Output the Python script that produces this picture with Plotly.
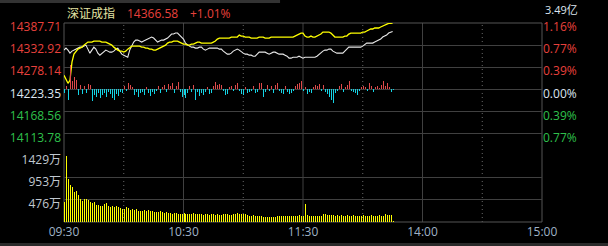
import plotly.graph_objects as go

# ---------------- data ----------------
prev_close = 14223.35
index_name = "深证成指"
total_amount_label = "3.49亿"

time_ticks = [0, 60, 120, 180, 240]
time_labels = ["09:30", "10:30", "11:30", "14:00", "15:00"]

price_ticks = [14387.71, 14332.92, 14278.14, 14223.35, 14168.56, 14113.78]
price_floor = 14058.99
volume_ticks = [476.33, 952.67, 1429.0]
volume_labels = ["476万", "953万", "1429万"]

# weighted index (white line), one value per minute
index_price = [
    14320.5, 14325.5, 14320.5, 14313.0, 14318.0, 14320.5, 14323.0, 14325.5, 14327.9, 14327.9,
    14330.4, 14332.9, 14323.0, 14313.0, 14320.5, 14327.9, 14323.0, 14313.0, 14308.0, 14313.0,
    14318.0, 14320.5, 14318.0, 14315.5, 14315.5, 14318.0, 14323.0, 14325.5, 14318.0, 14310.5,
    14308.0, 14305.5, 14303.0, 14320.5, 14332.9, 14340.4, 14345.4, 14345.4, 14342.9, 14340.4,
    14342.9, 14345.4, 14347.9, 14350.4, 14352.9, 14350.4, 14345.4, 14340.4, 14342.9, 14345.4,
    14345.4, 14347.9, 14350.4, 14355.3, 14360.3, 14360.3, 14362.8, 14362.8, 14357.8, 14352.9,
    14347.9, 14337.9, 14332.9, 14330.4, 14327.9, 14327.9, 14325.5, 14325.5, 14327.9, 14327.9,
    14323.0, 14320.5, 14323.0, 14325.5, 14325.5, 14325.5, 14325.5, 14325.5, 14323.0, 14323.0,
    14318.0, 14313.0, 14310.5, 14310.5, 14313.0, 14318.0, 14320.5, 14323.0, 14320.5, 14315.5,
    14313.0, 14310.5, 14310.5, 14308.0, 14308.0, 14305.5, 14305.5, 14310.5, 14315.5, 14315.5,
    14315.5, 14315.5, 14313.0, 14310.5, 14313.0, 14315.5, 14315.5, 14313.0, 14310.5, 14310.5,
    14310.5, 14308.0, 14305.5, 14300.6, 14300.6, 14303.0, 14303.0, 14303.0, 14305.5, 14303.0,
    14300.6, 14303.0, 14303.0, 14303.0, 14303.0, 14303.0, 14303.0, 14305.5, 14310.5, 14315.5,
    14318.0, 14320.5, 14320.5, 14323.0, 14323.0, 14318.0, 14315.5, 14313.0, 14313.0, 14313.0,
    14313.0, 14318.0, 14323.0, 14327.9, 14327.9, 14327.9, 14327.9, 14327.9, 14327.9, 14327.9,
    14330.4, 14335.4, 14337.9, 14337.9, 14337.9, 14337.9, 14340.4, 14342.9, 14345.4, 14347.9,
    14352.9, 14355.3, 14357.8, 14362.8, 14365.3, 14366.58,
]

# unweighted index (yellow line)
avg_price = [
    14258.2, 14248.3, 14238.3, 14245.8, 14290.6, 14310.5, 14318.0, 14323.0, 14325.5, 14327.9,
    14332.9, 14337.9, 14340.4, 14340.4, 14340.4, 14342.9, 14342.9, 14342.9, 14342.9, 14340.4,
    14340.4, 14340.4, 14337.9, 14335.4, 14332.9, 14327.9, 14323.0, 14320.5, 14318.0, 14318.0,
    14315.5, 14318.0, 14323.0, 14327.9, 14330.4, 14330.4, 14330.4, 14330.4, 14330.4, 14327.9,
    14327.9, 14325.5, 14325.5, 14323.0, 14323.0, 14320.5, 14320.5, 14323.0, 14325.5, 14327.9,
    14330.4, 14332.9, 14337.9, 14340.4, 14340.4, 14342.9, 14342.9, 14342.9, 14340.4, 14337.9,
    14335.4, 14335.4, 14332.9, 14332.9, 14335.4, 14335.4, 14337.9, 14340.4, 14340.4, 14337.9,
    14337.9, 14337.9, 14337.9, 14337.9, 14337.9, 14340.4, 14342.9, 14347.9, 14350.4, 14350.4,
    14350.4, 14350.4, 14350.4, 14350.4, 14352.9, 14352.9, 14352.9, 14352.9, 14357.8, 14355.3,
    14355.3, 14352.9, 14352.9, 14352.9, 14350.4, 14350.4, 14350.4, 14350.4, 14352.9, 14352.9,
    14352.9, 14350.4, 14350.4, 14350.4, 14352.9, 14352.9, 14352.9, 14352.9, 14352.9, 14352.9,
    14352.9, 14352.9, 14352.9, 14352.9, 14352.9, 14352.9, 14355.3, 14357.8, 14360.3, 14362.8,
    14362.8, 14355.3, 14352.9, 14352.9, 14355.3, 14352.9, 14352.9, 14355.3, 14357.8, 14360.3,
    14365.3, 14365.3, 14365.3, 14365.3, 14362.8, 14357.8, 14352.9, 14352.9, 14352.9, 14352.9,
    14352.9, 14355.3, 14355.3, 14360.3, 14362.8, 14362.8, 14362.8, 14362.8, 14362.8, 14362.8,
    14365.3, 14365.3, 14367.8, 14370.3, 14372.8, 14372.8, 14375.3, 14375.3, 14375.3, 14377.8,
    14380.3, 14382.7, 14385.2, 14386.9, 14387.0, 14387.3,
]

# buy/sell strength bars (red up, cyan down)
strength = [
    -4, 3, -11, 24, 8, 12, 9, -6, 4, -5,
    3, -4, 5, 4, -12, -6, -8, -4, -9, -6,
    -4, -8, -3, -5, -9, -11, -5, -7, -3, -4,
    3, -2, 6, 4, 2, -6, -3, -8, -4, -3,
    -6, 2, -4, -7, -3, -5, -2, 3, -4, 2,
    4, -3, 5, 3, 6, -4, 3, 7, -3, -8,
    -6, -9, -4, 3, -3, 4, -11, -3, -7, -4,
    -6, -3, 2, -5, -4, 3, 7, 4, 5, 4,
    -2, -6, -5, 2, 3, -2, 4, 6, -2, -5,
    -6, 2, -4, -3, -2, 3, -4, -3, 6, 6,
    -8, -3, 4, -2, 3, -4, 4, 6, -2, -4,
    -5, 3, -3, -5, -4, -2, 3, 5, 6, 8,
    -2, 2, -5, -3, -4, 2, 4, 3, 5, -2,
    4, -3, -5, -8, -11, -14, -4, -2, 3, 5,
    -3, 2, 4, 8, -2, -3, -4, -6, -2, 2,
    3, 2, -2, 6, 3, -3, 2, 3, 1, 4,
    8, 3, 6, 2, -3, -1,
]

# volume per minute (万)
volume = [
    446, 1429, 923, 813, 770, 644, 666, 594, 499, 468,
    506, 506, 484, 446, 423, 446, 374, 374, 352, 352,
    400, 423, 352, 330, 352, 330, 352, 330, 300, 286,
    286, 337, 300, 264, 286, 264, 286, 242, 242, 242,
    264, 242, 264, 242, 242, 220, 220, 220, 242, 220,
    198, 220, 198, 198, 183, 198, 198, 183, 183, 183,
    198, 183, 183, 190, 175, 200, 185, 180, 170, 175,
    165, 170, 175, 160, 170, 175, 165, 170, 160, 165,
    175, 180, 170, 165, 160, 170, 180, 205, 190, 170,
    180, 183, 150, 145, 140, 150, 145, 140, 145, 140,
    120, 118, 115, 120, 117, 120, 115, 130, 140, 145,
    140, 145, 140, 135, 140, 130, 145, 140, 150, 140,
    145, 389, 150, 140, 145, 140, 140, 135, 145, 140,
    176, 180, 160, 150, 165, 150, 145, 150, 145, 150,
    140, 145, 150, 140, 135, 150, 145, 140, 145, 140,
    150, 140, 145, 140, 150, 140, 145, 140, 150, 140,
    145, 183, 150, 160, 150, 30,
]

# ---------------- styles ----------------
BG = "#000000"
GRID = "#404040"
FRAME = "#555555"
RED = "#e8413c"
GREEN = "#2fc04c"
WHITE_LBL = "#dde6f0"
GRAY_LBL = "#c0c8d0"
AXIS_LBL = "#9fb2c6"
FONT = "Open Sans, Noto Sans CJK SC, sans-serif"
BAR_W = 0.5
BAR_OFF = 0.0

minutes = list(range(len(index_price)))
last = index_price[-1]
chg = (last / prev_close - 1) * 100


def price_color(p):
    if p > prev_close + 0.001:
        return RED
    if p < prev_close - 0.001:
        return GREEN
    return WHITE_LBL


left_text = [f'<span style="color:{price_color(p)}">{p:.2f}</span>' for p in price_ticks]
right_text = [
    f'<span style="color:{price_color(p)}">{abs(p / prev_close - 1) * 100:.2f}%</span>'
    for p in price_ticks
]

fig = go.Figure()

fig.add_trace(go.Bar(
    x=minutes, y=volume, xaxis="x", yaxis="y2", width=BAR_W, offset=BAR_OFF,
    marker=dict(color="rgba(255,255,0,0.995)", line=dict(width=0)), hoverinfo="skip",
))
pos = [v if v > 0 else 0 for v in strength]
neg = [v if v < 0 else 0 for v in strength]
fig.add_trace(go.Bar(
    x=minutes, y=pos, xaxis="x", yaxis="y4", width=BAR_W, offset=BAR_OFF,
    marker=dict(color="rgba(224,74,74,0.995)", line=dict(width=0)), hoverinfo="skip",
))
fig.add_trace(go.Bar(
    x=minutes, y=neg, xaxis="x", yaxis="y4", width=BAR_W, offset=BAR_OFF,
    marker=dict(color="rgba(20,212,230,0.995)", line=dict(width=0)), hoverinfo="skip",
))
fig.add_trace(go.Scatter(
    x=minutes, y=index_price, xaxis="x", yaxis="y", mode="lines",
    line=dict(color="#e8e8e8", width=1.1), hoverinfo="skip",
))
fig.add_trace(go.Scatter(
    x=minutes, y=avg_price, xaxis="x", yaxis="y", mode="lines",
    line=dict(color="#ffff00", width=1.3), hoverinfo="skip",
))
# invisible trace so the right-hand percent axis is drawn
fig.add_trace(go.Scatter(
    x=[minutes[-1]], y=[last], xaxis="x", yaxis="y3", mode="markers",
    marker=dict(opacity=0, size=1), hoverinfo="skip",
))

price_dom = [3 / 9, 1]
shapes = []
for m in [60, 120, 180]:
    shapes.append(dict(type="line", xref="x", yref="paper", x0=m, x1=m, y0=0, y1=1,
                       line=dict(color=GRID, width=1), layer="below"))
for m in [30, 90, 150, 210]:
    shapes.append(dict(type="line", xref="x", yref="paper", x0=m, x1=m, y0=0, y1=1,
                       line=dict(color="#6a6a6a", width=1, dash="1px,3px"), layer="below"))
shapes.append(dict(type="rect", xref="paper", yref="paper", x0=0, x1=1, y0=0, y1=1,
                   line=dict(color=FRAME, width=1), layer="below"))
shapes.append(dict(type="rect", xref="paper", yref="paper", x0=-0.134, x1=0.452,
                   y0=1.1005, y1=1.12, fillcolor="#333333", line=dict(width=0)))
shapes.append(dict(type="rect", xref="paper", yref="paper", x0=-0.134, x1=1.14,
                   y0=-0.125, y1=-0.1055, fillcolor="#2a2a2a", line=dict(width=0)))

annotations = [
    dict(text=index_name, xref="paper", yref="paper", x=0.003, y=1.050,
         xanchor="left", yanchor="middle", showarrow=False,
         font=dict(family=FONT, size=12, color="#e4e4a4")),
    dict(text=f"{last:.2f}", xref="paper", yref="paper", x=0.127, y=1.050,
         xanchor="left", yanchor="middle", showarrow=False,
         font=dict(family=FONT, size=12, color=RED)),
    dict(text=f"{chg:+.2f}%", xref="paper", yref="paper", x=0.259, y=1.050,
         xanchor="left", yanchor="middle", showarrow=False,
         font=dict(family=FONT, size=12, color=RED)),
    dict(text=total_amount_label, xref="paper", yref="paper", x=1.0795, y=1.066,
         xanchor="right", yanchor="middle", showarrow=False,
         font=dict(family=FONT, size=11, color=WHITE_LBL)),
]

fig.update_layout(
    width=608, height=246, autosize=False,
    margin=dict(l=64, r=66, t=23, b=24, pad=0, autoexpand=False),
    paper_bgcolor=BG, plot_bgcolor=BG,
    showlegend=False, barmode="overlay", bargap=0,
    xaxis=dict(range=[0, 240], anchor="y2", showgrid=False, zeroline=False,
               tickvals=time_ticks, ticktext=time_labels, ticks="",
               tickfont=dict(family=FONT, size=12, color=AXIS_LBL),
               ticklabelstandoff=1, automargin=False, fixedrange=True),
    yaxis=dict(domain=price_dom, range=[price_floor, price_ticks[0]],
               tickvals=price_ticks, ticktext=left_text, ticks="",
               showgrid=True, gridcolor=GRID, gridwidth=1, zeroline=False,
               tickfont=dict(family=FONT, size=12), ticklabelshift=4,
               ticklabelstandoff=2, automargin=False, anchor="x"),
    yaxis3=dict(overlaying="y", side="right", range=[price_floor, price_ticks[0]],
                tickvals=price_ticks, ticktext=right_text, ticks="",
                showgrid=False, zeroline=False,
                tickfont=dict(family=FONT, size=12), ticklabelshift=4,
                automargin=False, anchor="x"),
    yaxis4=dict(overlaying="y", range=[-66, 66], visible=False, showgrid=False,
                zeroline=False, automargin=False),
    yaxis2=dict(domain=[0, 3 / 9], range=[0, volume_ticks[-1]],
                tickvals=volume_ticks, ticktext=volume_labels, ticks="",
                showgrid=True, gridcolor=GRID, gridwidth=1, zeroline=False,
                tickfont=dict(family=FONT, size=12, color=GRAY_LBL),
                ticklabelshift=4, ticklabelstandoff=2, automargin=False, anchor="x"),
    shapes=shapes,
    annotations=annotations,
)

fig.write_html("out.html", config={"displayModeBar": False})
